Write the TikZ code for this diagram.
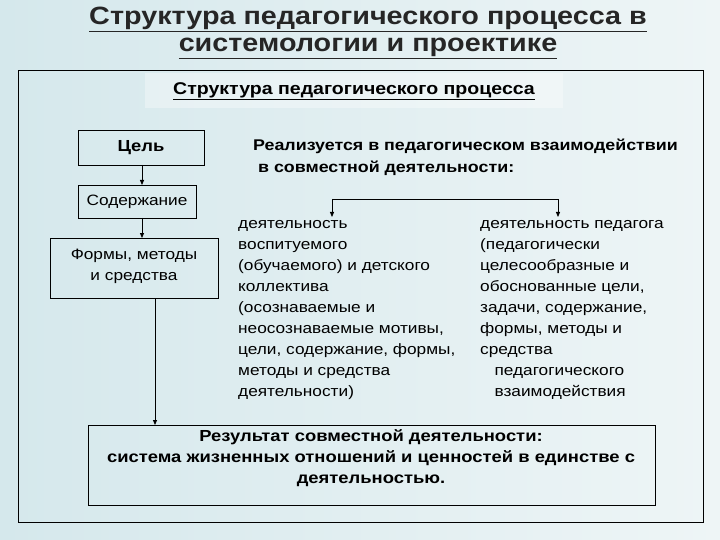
\documentclass[tikz,border=0pt]{standalone}
\usepackage{fontspec}
\setmainfont[FakeStretch=1.15]{Liberation Sans}
\usetikzlibrary{arrows.meta}
\definecolor{bgA}{HTML}{D5E8EC}
\definecolor{bgB}{HTML}{EEF5F6}
\begin{document}
\begin{tikzpicture}[x=1pt,y=-1pt,
  box/.style={draw=black,line width=0.8pt,inner sep=0pt},
  lbl/.style={font=\fontsize{16}{19}\selectfont\bfseries,align=center},
  col/.style={font=\fontsize{15}{21}\selectfont,align=left,anchor=north west,inner sep=0pt},
  arr/.style={-{Triangle[length=5pt,width=4pt]},line width=0.8pt}]
\useasboundingbox (0,0) rectangle (720,540);
\shade[top color=bgA,bottom color=bgA!60!bgB,left color=bgA,right color=bgB] (0,0) rectangle (720,540);
\node[font=\fontsize{25}{27}\selectfont\bfseries,align=center,text=black!85] (title) at (368,33) {\underline{Структура педагогического процесса в}\\\underline{системологии и проектике}};
\draw[line width=0.9pt] (18,70) rectangle (703,522);
\fill[white,opacity=0.35] (145,73) rectangle (563,108);
\node[font=\fontsize{17}{19}\selectfont\bfseries] (hdr) at (354,91) {\underline{Структура педагогического процесса}};
\draw[box] (78,130) rectangle (204,165); \node[lbl] (cel) at (141,147.5) {Цель};
\draw[box] (78,185) rectangle (196,218); \node[lbl,font=\fontsize{15}{19}\selectfont] (sod) at (137,201.5) {Содержание};
\draw[box] (50,238) rectangle (218,298); \node[lbl,font=\fontsize{15}{21}\selectfont] (form) at (134,266) {Формы, методы\\и средства};
\coordinate (c1) at (142,165); \coordinate (c2) at (142,185);
\coordinate (c3) at (142,218); \coordinate (c4) at (142,238);
\draw[arr] (c1) -- (c2); \draw[arr] (c3) -- (c4);
\coordinate (c5) at (155,298); \coordinate (c6) at (155,425);
\draw[arr] (c5) -- (c6);
\node[font=\fontsize{15.5}{22}\selectfont\bfseries,align=left,anchor=north west,inner sep=0pt] (real) at (253,139) {Реализуется в педагогическом взаимодействии\\\ в совместной деятельности:};
\coordinate (b1) at (332,217); \coordinate (b2) at (332,199);
\coordinate (b3) at (558,199); \coordinate (b4) at (558,217);
\draw[arr] (b2) -- (b1); \draw[arr] (b2) -- (b3) -- (b4);
\node[col] (left) at (238,220) {деятельность\\воспитуемого\\(обучаемого) и детского\\коллектива\\(осознаваемые и\\неосознаваемые мотивы,\\цели, содержание, формы,\\методы и средства\\деятельности)};
\node[col] (right) at (480,220) {деятельность педагога\\(педагогически\\целесообразные и\\обоснованные цели,\\задачи, содержание,\\формы, методы и\\средства\\\ \ \ педагогического\\\ \ \ взаимодействия};
\draw[box] (88,425) rectangle (655,505);
\node[font=\fontsize{16}{21}\selectfont\bfseries,align=center] (res) at (371,458) {Результат совместной деятельности:\\система жизненных отношений и ценностей в единстве с\\деятельностью.};
\end{tikzpicture}
\end{document}
